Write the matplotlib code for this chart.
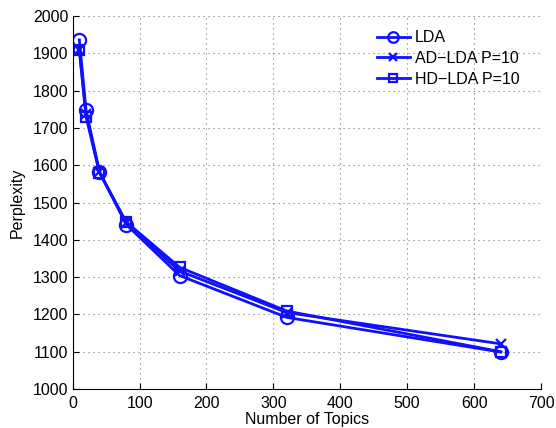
import matplotlib
matplotlib.use("Agg")
import matplotlib.pyplot as plt

topics = [10, 20, 40, 80, 160, 320, 640]
lda = [1936, 1747, 1583, 1441, 1304, 1192, 1099]
ad_lda = [1910, 1736, 1581, 1445, 1316, 1205, 1121]
hd_lda = [1908, 1730, 1580, 1448, 1326, 1209, 1100]

plt.rcParams['font.family'] = ['Liberation Sans', 'DejaVu Sans']
plt.rcParams['font.size'] = 11.5

fig = plt.figure(figsize=(5.56, 4.28), dpi=100)
ax = fig.add_axes([0.1307, 0.0911, 0.8423, 0.8715])

c = '#1010ff'
ax.plot(topics, lda, '-o', color=c, lw=2, ms=9.5, mfc='none', mew=1.6, label='LDA')
ax.plot(topics, ad_lda, '-x', color=c, lw=2, ms=7, mew=1.6, label='AD\u2212LDA P=10')
ax.plot(topics, hd_lda, '-s', color=c, lw=2, ms=7.5, mfc='none', mew=1.6, label='HD\u2212LDA P=10')

ax.set_xlim(0, 700)
ax.set_ylim(1000, 2000)
ax.set_xticks(range(0, 701, 100))
ax.set_yticks(range(1000, 2001, 100))
ax.grid(True, linestyle=(0, (1, 3.5)), color='#777777', lw=0.8)
ax.spines['top'].set_visible(False)
ax.spines['right'].set_visible(False)
ax.tick_params(direction='in', length=4, top=False, right=False, pad=3)
ax.tick_params(axis='x', pad=5)
ax.set_xlabel('Number of Topics', labelpad=1)
ax.set_ylabel('Perplexity', labelpad=6)
leg = ax.legend(loc='upper right', frameon=False, handlelength=2.1, handletextpad=0.3,
                labelspacing=0.35, bbox_to_anchor=(0.985, 1.0), markerscale=0.8)

fig.savefig('out.png', dpi=100)
